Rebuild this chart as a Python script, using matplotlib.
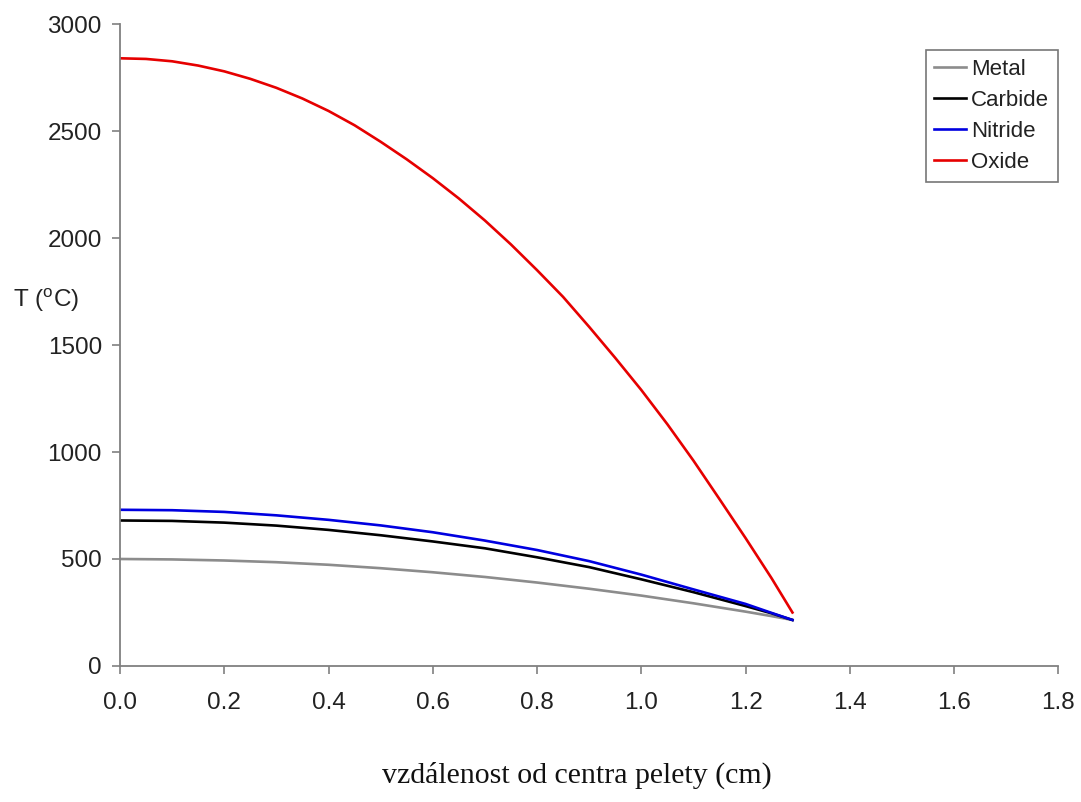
#!/usr/bin/env python3
"""Radial temperature profile in a fuel pellet for four fuel types."""

import matplotlib
matplotlib.use("Agg")
import matplotlib.pyplot as plt

# distance from pellet centre (cm)
x_cm = [0.0, 0.1, 0.2, 0.3, 0.4, 0.5, 0.6, 0.7, 0.8, 0.9, 1.0, 1.1, 1.2, 1.25, 1.29]

# temperature (deg C)
t_metal = [500, 498, 493, 485, 473, 457, 438, 416, 390, 361, 329, 293, 254, 233, 215]
t_carbide = [680, 678, 670, 656, 636, 611, 582, 550, 508, 462, 405, 345, 280, 246, 215]
t_nitride = [730, 728, 720, 704, 683, 657, 625, 586, 542, 490, 427, 358, 290, 248, 215]

# oxide falls much faster, so it is read at a finer step
x_oxide = [0.0, 0.05, 0.1, 0.15, 0.2, 0.25, 0.3, 0.35, 0.4, 0.45, 0.5, 0.55, 0.6,
           0.65, 0.7, 0.75, 0.8, 0.85, 0.9, 0.95, 1.0, 1.05, 1.1, 1.15, 1.2,
           1.25, 1.29]
t_oxide = [2840, 2837, 2826, 2806, 2779, 2744, 2702, 2652, 2594, 2527, 2450,
           2368, 2280, 2185, 2082, 1970, 1850, 1725, 1585, 1440, 1290, 1130,
           960, 780, 598, 410, 250]

x_ticks = [0.0, 0.2, 0.4, 0.6, 0.8, 1.0, 1.2, 1.4, 1.6, 1.8]
y_ticks = [0, 500, 1000, 1500, 2000, 2500, 3000]

SANS = ["Liberation Sans", "DejaVu Sans"]
SERIF = ["Liberation Serif", "DejaVu Serif"]
plt.rcParams["font.family"] = SANS
plt.rcParams["mathtext.fontset"] = "custom"
plt.rcParams["mathtext.rm"] = "Liberation Sans"

fig = plt.figure(figsize=(10.81, 8.02), dpi=100)
ax = fig.add_axes([0.111, 0.1696, 0.868, 0.8004])

lw = 1.9
ax.plot(x_cm, t_metal, color="#8c8c8c", linewidth=lw, label="Metal")
ax.plot(x_cm, t_carbide, color="#000000", linewidth=lw, label="Carbide")
ax.plot(x_cm, t_nitride, color="#0000e0", linewidth=lw, label="Nitride")
ax.plot(x_oxide, t_oxide, color="#e60000", linewidth=lw, label="Oxide")

ax.set_xlim(0, 1.8)
ax.set_ylim(0, 3000)
ax.set_xticks(x_ticks)
ax.set_xticklabels([f"{v:.1f}" for v in x_ticks])
ax.set_yticks(y_ticks)

for side in ("top", "right"):
    ax.spines[side].set_visible(False)
for side in ("left", "bottom"):
    ax.spines[side].set_color("#808080")
    ax.spines[side].set_linewidth(1.3)

ax.tick_params(axis="both", direction="out", length=6, width=1.2,
               color="#808080", labelcolor="#222222", labelsize=17.5)
ax.tick_params(axis="y", pad=7)
ax.tick_params(axis="x", pad=13)

# axis titles
fig.text(0.012, 1 - 300 / 802, "T ($^{\\mathregular{o}}$C)", fontsize=17.5,
         color="#222222", ha="left", va="center")
fig.text(577 / 1081, 1 - 775 / 802, "vzdálenost od centra pelety (cm)",
         fontsize=21.5, family=SERIF, color="#111111", ha="center", va="center")

leg = ax.legend(loc="upper right", bbox_to_anchor=(1058 / 1081, 1 - 50 / 802),
                bbox_transform=fig.transFigure, fontsize=16, frameon=True,
                fancybox=False, handlelength=1.4, handletextpad=0.25,
                borderpad=0.4, labelspacing=0.45, borderaxespad=0)
leg.get_frame().set_edgecolor("#555555")
leg.get_frame().set_linewidth(1.2)
for t in leg.get_texts():
    t.set_color("#222222")

fig.savefig("out.png", dpi=100)
print("Wrote out.png")
